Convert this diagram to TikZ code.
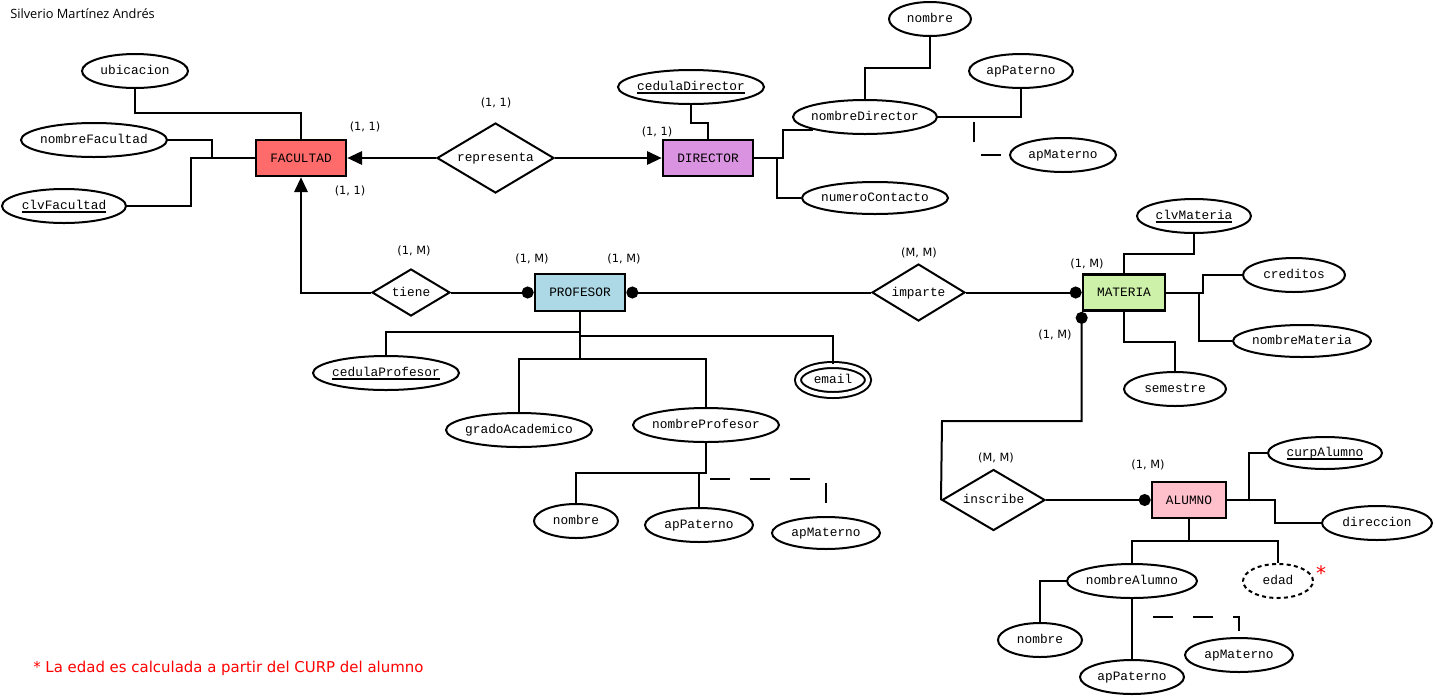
\documentclass[tikz,border=0pt]{standalone}
\usepackage{fontspec}
\usetikzlibrary{shapes.geometric,arrows.meta}
\newfontfamily\courf{Liberation Mono}
\newfontfamily\tahf{DejaVu Sans}
\newfontfamily\segf{Open Sans}
\newcommand\ztxt[1]{\smash{\raisebox{-0.55ex}{\makebox[0pt]{#1}}}}
\newcommand\keyt[1]{\setbox0\hbox{#1}\rlap{\rule[-2.4pt]{\wd0}{1.2pt}}\box0}
\definecolor{facc}{HTML}{FF6B6B}
\definecolor{dirc}{HTML}{DA93E0}
\definecolor{profc}{HTML}{ADD8E6}
\definecolor{matc}{HTML}{CDF1A8}
\definecolor{aluc}{HTML}{FFC0CB}
\definecolor{notec}{HTML}{FF0000}
\tikzset{
  sz/.style 2 args={minimum width={#1*0.75pt}, minimum height={#2*0.75pt}},
  ent/.style={draw, rectangle, line width=2pt, inner sep=0pt, font=\courf\fontsize{9.6}{11}\selectfont},
  attr/.style={draw, ellipse, line width=1.5pt, inner sep=0pt, font=\courf\fontsize{9.6}{11}\selectfont},
  rel/.style={draw, diamond, line width=1.5pt, inner sep=0pt, fill=white, font=\courf\fontsize{9.6}{11}\selectfont},
  card/.style={inner sep=0pt, font=\tahf\fontsize{8.5}{10}\selectfont},
  conn/.style={line width=1.5pt},
  partial/.style={line width=1.5pt, dash pattern=on 15pt off 15pt},
  tri/.style={-{Triangle[length=11pt,width=10pt]}},
  dotend/.style={-{Circle[length=9pt]}},
}
\begin{document}
\begin{tikzpicture}[x=0.75pt, y=-0.75pt]
\useasboundingbox (0,0) rectangle (1435,697);

% title and note
\node[anchor=west, inner sep=0pt, font=\segf\fontsize{9.6}{11}\selectfont] (title) at (10,14) {Silverio Martínez Andrés};
\node[anchor=west, inner sep=0pt, text=notec, font=\tahf\fontsize{11.2}{13}\selectfont] (foot) at (33,668) {* La edad es calculada a partir del CURP del alumno};

% entities
\node[ent, fill=facc, sz={90}{36}] (fac) at (301,158) {FACULTAD};
\node[ent, fill=dirc, sz={90}{36}] (dir) at (708,158) {DIRECTOR};
\node[ent, fill=profc, sz={90}{37}] (prof) at (580,292.5) {PROFESOR};
\node[ent, fill=matc, sz={82}{36}] (mat) at (1124,292.5) {MATERIA};
\node[ent, fill=aluc, sz={74}{36}] (alu) at (1189,500) {ALUMNO};

% relationships
\node[rel, sz={117}{70}] (rep) at (495.5,158) {\ztxt{representa}};
\node[rel, sz={78}{47}] (tiene) at (411,292.5) {\ztxt{tiene}};
\node[rel, sz={93}{57}] (imp) at (918.5,292.5) {\ztxt{imparte}};
\node[rel, sz={103}{61}] (ins) at (993.5,500) {\ztxt{inscribe}};

% attributes
\node[attr, sz={106}{34}] (ubic) at (135,71) {\ztxt{ubicacion}};
\node[attr, sz={146}{34}] (nomFac) at (94,140) {\ztxt{nombreFacultad}};
\node[attr, sz={124}{34}] (clvFac) at (64,206) {\ztxt{\keyt{clvFacultad}}};
\node[attr, sz={146}{34}] (cedDir) at (691,87) {\ztxt{\keyt{cedulaDirector}}};
\node[attr, sz={144}{34}] (nomDir) at (865,117) {\ztxt{nombreDirector}};
\node[attr, sz={146}{32}] (numCon) at (875,198) {\ztxt{numeroContacto}};
\node[attr, sz={82}{34}] (dnombre) at (930,19) {\ztxt{nombre}};
\node[attr, sz={104}{34}] (dapP) at (1021,71) {\ztxt{apPaterno}};
\node[attr, sz={106}{34}] (dapM) at (1063,155) {\ztxt{apMaterno}};
\node[attr, sz={114}{34}] (clvMat) at (1194,216) {\ztxt{\keyt{clvMateria}}};
\node[attr, sz={102}{34}] (cred) at (1294,275) {\ztxt{creditos}};
\node[attr, sz={138}{32}] (nomMat) at (1302,341) {\ztxt{nombreMateria}};
\node[attr, sz={102}{34}] (sem) at (1175,389) {\ztxt{semestre}};
\node[attr, double, double distance=3pt, sz={70}{30}] (email) at (833,380) {\ztxt{email}};
\node[attr, sz={146}{34}] (cedProf) at (386,373) {\ztxt{\keyt{cedulaProfesor}}};
\node[attr, sz={146}{34}] (grado) at (519,430) {\ztxt{gradoAcademico}};
\node[attr, sz={146}{34}] (nomProf) at (706,425) {\ztxt{nombreProfesor}};
\node[attr, sz={84}{34}] (pnombre) at (576,521) {\ztxt{nombre}};
\node[attr, sz={108}{34}] (papP) at (699,525) {\ztxt{apPaterno}};
\node[attr, sz={108}{32}] (papM) at (826,533) {\ztxt{apMaterno}};
\node[attr, sz={114}{32}] (curp) at (1325,453) {\ztxt{\keyt{curpAlumno}}};
\node[attr, sz={110}{34}] (direc) at (1377,523) {\ztxt{direccion}};
\node[attr, sz={130}{34}] (nomAlu) at (1132,581) {\ztxt{nombreAlumno}};
\node[attr, dash pattern=on 3pt off 2.5pt, sz={70}{34}] (edad) at (1278,581) {\ztxt{edad}};
\node[attr, sz={84}{34}] (anombre) at (1040,640) {\ztxt{nombre}};
\node[attr, sz={104}{34}] (aapP) at (1132,677) {\ztxt{apPaterno}};
\node[attr, sz={108}{34}] (aapM) at (1239,655) {\ztxt{apMaterno}};

% cardinalities
\node[card] (c1) at (365,127) {(1, 1)};
\node[card] (c2) at (350,191) {(1, 1)};
\node[card] (c3) at (496,103) {(1, 1)};
\node[card] (c4) at (657,132) {(1, 1)};
\node[card] (c5) at (414,251) {(1, M)};
\node[card] (c6) at (532,259) {(1, M)};
\node[card] (c7) at (624,259) {(1, M)};
\node[card] (c8) at (919,253) {(M, M)};
\node[card] (c9) at (1087,264) {(1, M)};
\node[card] (c10) at (1055,335) {(1, M)};
\node[card] (c11) at (996,458) {(M, M)};
\node[card] (c12) at (1148,465) {(1, M)};
\node[inner sep=0pt, text=notec, font=\tahf\fontsize{15}{16}\selectfont] (star) at (1321,573) {*};

% FACULTAD attributes
\coordinate (b1) at (135,113);
\coordinate (b2) at (212,158);
\coordinate (b3) at (191,158);
\draw[conn] (ubic.south) -- (b1) -| (fac.north);
\draw[conn] (nomFac.east) -| (b2);
\draw[conn] (clvFac.east) -| (b3) -- (fac.west);

% representa
\draw[conn, tri] (rep.west) -- (fac.east);
\draw[conn, tri] (rep.east) -- (dir.west);

% DIRECTOR attributes
\coordinate (b4) at (708,123);
\coordinate (b5) at (783,158);
\coordinate (b6) at (777,158);
\coordinate (b7) at (930,68);
\coordinate (b8) at (974,117);
\draw[conn] (cedDir.south) |- (b4) -- (dir.north);
\draw[conn] (dir.east) -- (b5) |- (nomDir.south west);
\draw[conn] (b6) |- (numCon.west);
\draw[conn] (dnombre.south) -- (b7) -| (nomDir.north);
\draw[conn] (dapP.south) |- (nomDir.east);
\draw[partial, dash phase=26.25pt] (b8) |- (dapM.west);

% tiene / imparte / inscribe
\draw[conn, tri] (tiene.west) -| (fac.south);
\draw[conn, dotend] (tiene.east) -- (prof.west);
\draw[conn, dotend] (imp.west) -- (prof.east);
\draw[conn, dotend] (imp.east) -- (mat.west);
\coordinate (b9) at (942,421);
\draw[conn, dotend] (ins.west) -- (b9) -| (mat.south west);
\draw[conn, dotend] (ins.east) -- (alu.west);

% MATERIA attributes
\coordinate (b10) at (1194,254);
\coordinate (b11) at (1203,292.5);
\coordinate (b12) at (1199,292.5);
\coordinate (b13) at (1124,342);
\draw[conn] (clvMat.south) -- (b10) -| (mat.north);
\draw[conn] (mat.east) -- (b11) |- (cred.west);
\draw[conn] (b12) |- (nomMat.west);
\draw[conn] (mat.south) -- (b13) -| (sem.north);

% PROFESOR attributes
\coordinate (p1) at (580,359);
\coordinate (p2) at (580,332);
\coordinate (p3) at (580,336);
\coordinate (p4) at (706,473);
\coordinate (p5) at (699,473);
\coordinate (p6) at (706,479);
\draw[conn] (prof.south) -- (p1);
\draw[conn] (p2) -| (cedProf.north);
\draw[conn] (p3) -| (email.north);
\draw[conn] (p1) -| (grado.north);
\draw[conn] (p1) -| (nomProf.north);
\draw[conn] (nomProf.south) -- (p4) -| (pnombre.north);
\draw[conn] (p5) -- (papP.north);
\draw[partial, dash phase=27pt] (p6) -| (papM.north);

% ALUMNO attributes
\coordinate (a1) at (1249,500);
\coordinate (a2) at (1275,500);
\coordinate (a3) at (1189,541);
\coordinate (a4) at (1132,617);
\draw[conn] (alu.east) -- (a1) |- (curp.west);
\draw[conn] (a1) -- (a2) |- (direc.west);
\draw[conn] (alu.south) -- (a3);
\draw[conn] (a3) -| (nomAlu.north);
\draw[conn] (a3) -| (edad.north);
\draw[conn] (nomAlu.west) -| (anombre.north);
\draw[conn] (nomAlu.south) -- (aapP.north);
\draw[partial, dash phase=14.25pt] (a4) -| (aapM.north);
\end{tikzpicture}
\end{document}
